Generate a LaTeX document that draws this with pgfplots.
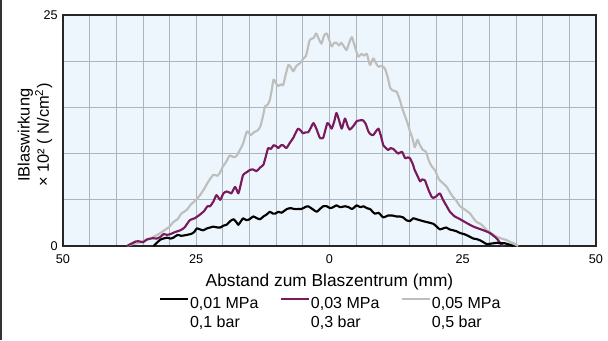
\documentclass[border=0pt]{standalone}
\usepackage{fontspec}
\setmainfont{Liberation Sans}
\usepackage{pgfplots}
\pgfplotsset{compat=1.18}

\definecolor{bgblue}{RGB}{238,246,253}
\definecolor{gridc}{RGB}{172,180,190}
\definecolor{purp}{RGB}{122,26,92}
\definecolor{lgray}{RGB}{190,190,188}

\begin{document}
\begin{tikzpicture}
\useasboundingbox (-47.25pt,-70.5pt) rectangle (408.75pt,184.5pt);
\draw[black!80, line width=1pt] (-46.6pt,-70.5pt) -- (-46.6pt,184.5pt);
\begin{axis}[
    at={(0,0)}, anchor=south west,
    scale only axis, width=399.75pt, height=173.25pt,
    xmin=-50, xmax=50, ymin=0, ymax=25,
    xtick={-50,-25,0,25,50}, xticklabels={50,25,0,25,50},
    minor xtick={-45,-40,...,45},
    ytick={0,25}, minor ytick={5,10,15,20},
    grid=both,
    grid style={gridc, line width=0.6pt},
    minor grid style={gridc, line width=0.6pt},
    major tick length=0pt, minor tick length=0pt,
    axis line style={black!85, line width=1pt},
    axis background/.style={fill=bgblue},
    /pgf/number format/assume math mode=true,
    ticklabel style={font=\fontsize{9.5}{11}\selectfont},
    xticklabel style={anchor=base, yshift=-12.75pt},
    yticklabel style={anchor=east, inner sep=0pt, xshift=-3.75pt},
    xlabel={Abstand zum Blaszentrum (mm)},
    xlabel style={at={(axis description cs:0.5,0)}, anchor=base, yshift=-30pt,
        font=\fontsize{13}{15}\selectfont},
    ylabel={IBlaswirkung\\× 10² ( N/cm\textsuperscript{2})},
    ylabel style={align=center, font=\fontsize{12.3}{14.5}\selectfont,
        at={(axis description cs:-0.0525,0.48)}, anchor=center},
    legend columns=3,
    legend cell align=left,
    legend image code/.code={\draw[#1] (0pt,4pt) -- (21pt,4pt);},
    legend style={draw=none, fill=none, inner sep=0pt, at={(0.5,0)},
        anchor=north, yshift=-37.5pt, row sep=2.75pt,
        nodes={inner sep=0pt, text height=9pt, text depth=2.5pt,
            font=\fontsize{12}{14}\selectfont},
        /tikz/every odd column/.append style={column sep=1pt},
        /tikz/every even column/.append style={column sep=15.75pt}},
    every axis plot/.append style={smooth, tension=0.35, line width=1.6pt,
        line join=round},
]
% 0,05 MPa
\addplot[lgray, forget plot] coordinates {
(-38,0) (-37,0.2) (-36,0.3) (-35,0.5) (-34,0.7) (-33,1.0) (-32,1.3) (-31,1.7)
(-30,2.1) (-29.3,2.6) (-28.5,2.9) (-27.8,3.5) (-26.8,3.9) (-26,4.5) (-25.2,4.9)
(-24.3,5.5) (-23.5,6.2) (-22.7,7.0) (-21.8,7.7) (-21,7.6) (-20.5,8.0) (-20,8.6)
(-19.5,9.0) (-18.7,9.8) (-18,9.6) (-17.5,9.7) (-16.8,10.4) (-16.2,11.1)
(-15.5,12.4) (-14.8,12.0) (-14.2,12.3) (-13.5,12.5) (-13.0,12.9) (-12.5,14.0)
(-12.1,15.1) (-11.6,15.3) (-11.2,15.8) (-10.8,17.0) (-10.5,18.0) (-10.0,17.6)
(-9.6,17.3) (-9.1,17.5) (-8.7,17.4) (-8.2,18.6) (-7.7,19.6) (-7.2,19.3)
(-6.8,18.9) (-6.2,19.5) (-5.5,19.8) (-4.9,20.3) (-4.4,20.6) (-3.7,22.3)
(-3.0,22.5) (-2.5,23.0) (-2.0,22.4) (-1.5,21.9) (-1.0,22.8) (-0.5,23.0)
(0,22.2) (0.4,21.6) (0.9,22.0) (1.3,22.0) (1.8,21.7) (2.2,22.0) (2.7,21.6)
(3.2,21.2) (3.7,22.0) (4.2,22.6) (4.8,21.5) (5.4,20.5) (6.0,20.8) (6.5,20.6)
(7.0,20.8) (7.6,19.6) (8.2,20.3) (8.7,19.8) (9.2,19.4) (9.8,19.5) (10.4,19.2)
(10.9,18.3) (11.4,17.1) (12.0,16.8) (12.6,16.7) (13.2,15.8) (13.7,14.8)
(14.2,14.0) (14.7,13.2) (15.1,12.4) (15.6,11.6) (16.0,10.7) (16.5,11.5)
(16.9,11.0) (17.5,10.4) (18.1,10.2) (18.6,9.3) (19.2,8.6) (19.8,8.2) (20.3,7.5)
(20.7,7.1) (21.3,6.8) (22.0,6.4) (22.6,5.8) (23.2,5.3) (23.8,4.9) (24.5,4.3)
(25.5,3.9) (26.4,3.5) (27.0,3.0) (27.6,2.6) (28.3,2.4) (28.9,2.1) (29.5,1.7)
(30.1,1.5) (30.8,1.2) (31.4,1.0) (32.3,0.8) (33.2,0.65) (34.0,0.4) (34.5,0.3)
(35.4,0)
};
% 0,03 MPa
\addplot[purp, forget plot] coordinates {
(-38,0) (-37,0.3) (-36.3,0.5) (-35.6,0.5) (-35,0.4) (-34.3,0.7) (-33.6,0.8)
(-33.1,0.85) (-32.4,0.8) (-31.7,1.0) (-31.1,1.3) (-30.5,1.2) (-29.8,1.3)
(-29,1.5) (-28,1.7) (-27.2,2.0) (-26.2,2.8) (-25.3,3.0) (-24.3,3.4) (-23.5,3.8)
(-22.9,4.3) (-22.4,4.3) (-21.8,4.8) (-21.2,5.5) (-20.5,5.0) (-19.9,5.7)
(-19.3,5.9) (-18.8,5.8) (-18.4,5.7) (-17.7,6.4) (-17.1,5.7) (-16.6,6.8)
(-16.2,7.7) (-15.5,8.0) (-15.0,8.2) (-14.4,8.3) (-13.7,8.1) (-13.0,8.5)
(-12.4,8.8) (-11.9,9.8) (-11.5,10.6) (-11.0,10.5) (-10.5,10.9) (-10.0,10.8)
(-9.6,10.6) (-9.1,10.9) (-8.7,10.9) (-8.1,10.6) (-7.4,11.2) (-6.8,11.7)
(-6.3,12.3) (-5.9,12.7) (-5.4,12.5) (-5.0,12.2) (-4.5,12.3) (-4.0,12.3)
(-3.5,12.8) (-3.0,13.3) (-2.4,12.6) (-1.8,11.7) (-1.2,11.7) (-0.8,12.5)
(-0.4,13.3) (0,13.1) (0.4,12.7) (0.9,13.5) (1.3,14.4) (1.8,13.6) (2.3,12.7)
(2.9,13.8) (3.4,13.0) (3.8,12.6) (4.5,13.0) (5.1,13.5) (5.7,13.6) (6.3,13.6)
(6.8,13.2) (7.3,12.4) (7.7,12.1) (8.2,12.0) (8.7,12.4) (9.2,12.7) (9.7,11.8)
(10.1,10.9) (10.6,10.6) (11.0,10.4) (11.5,10.6) (12.0,10.5) (12.5,10.2)
(12.9,10.0) (13.6,10.2) (14.2,9.5) (14.7,9.6) (15.1,9.5) (15.6,8.9) (16.0,8.2)
(16.5,7.6) (17.0,7.0) (17.4,7.2) (17.9,7.1) (18.3,6.5) (18.7,5.9) (19.2,5.3)
(19.5,5.2) (20.1,5.4) (20.7,5.7) (21.3,5.0) (22.0,4.3) (22.6,3.7) (23.5,3.2)
(24.5,2.9) (25.7,2.5) (27.0,2.1) (28.9,1.7) (30.1,1.4) (31.4,0.8) (32.3,0.1)
(32.6,0)
};
% 0,01 MPa
\addplot[black, forget plot] coordinates {
(-33,0) (-32.3,0.4) (-31.7,0.7) (-31.2,0.8) (-30.5,0.9) (-29.8,0.8) (-29.3,0.9)
(-28.5,1.2) (-27.8,1.1) (-26.8,1.2) (-26,1.3) (-25.4,1.5) (-24.9,1.9)
(-24.3,1.8) (-23.7,1.7) (-23,1.9) (-22.4,2.0) (-21.8,2.1) (-21,2.0) (-20.5,2.0)
(-19.9,2.2) (-19.3,2.3) (-18.6,2.7) (-18.0,2.9) (-17.5,2.6) (-17.1,2.3)
(-16.6,2.7) (-16.2,3.0) (-15.6,2.8) (-15.0,2.9) (-14.3,3.2) (-13.6,3.0)
(-13.0,2.9) (-12.4,3.2) (-11.8,3.4) (-11.2,3.7) (-10.6,3.5) (-10.2,3.5)
(-9.6,3.7) (-9.0,3.6) (-8.5,3.8) (-8.0,4.0) (-7.3,4.1) (-6.6,4.0) (-5.9,4.0)
(-5.3,4.0) (-4.6,4.2) (-4.0,4.3) (-3.2,4.0) (-2.4,3.7) (-1.8,4.0) (-1.2,4.3)
(-0.5,4.3) (0.1,4.1) (0.7,4.2) (1.3,4.4) (2.0,4.2) (2.9,4.3) (3.6,4.2)
(4.2,4.0) (4.7,4.2) (5.1,4.4) (5.8,4.2) (6.4,4.3) (7.0,4.1) (7.6,4.0)
(8.5,3.5) (9.2,3.6) (9.7,3.3) (10.1,3.1) (10.6,3.2) (11.0,3.3) (11.8,3.3)
(12.5,3.2) (13.2,3.2) (13.8,3.1) (14.4,2.8) (15.1,2.7) (15.7,3.0) (16.3,2.9)
(16.9,2.8) (17.5,2.7) (18.2,2.6) (18.9,2.5) (19.5,2.4) (20.1,2.1) (20.7,1.8)
(21.3,1.9) (21.9,2.0) (22.5,1.8) (23.2,1.7) (23.8,1.6) (24.5,1.4) (25.2,1.3)
(26,1.1) (27.0,0.8) (27.6,0.75) (28.3,0.6) (28.9,0.4) (29.5,0.2) (30.2,0.25)
(30.8,0.3) (31.5,0.35) (32.0,0.3) (32.8,0.3) (33.5,0.2) (34.5,0)
};
\addlegendimage{black, line width=1.6pt}
\addlegendentry{0,01 MPa}
\addlegendimage{purp, line width=1.6pt}
\addlegendentry{0,03 MPa}
\addlegendimage{lgray, line width=1.6pt}
\addlegendentry{0,05 MPa}
\addlegendimage{empty legend}
\addlegendentry{0,1 bar}
\addlegendimage{empty legend}
\addlegendentry{0,3 bar}
\addlegendimage{empty legend}
\addlegendentry{0,5 bar}
\end{axis}
\end{tikzpicture}
\end{document}
